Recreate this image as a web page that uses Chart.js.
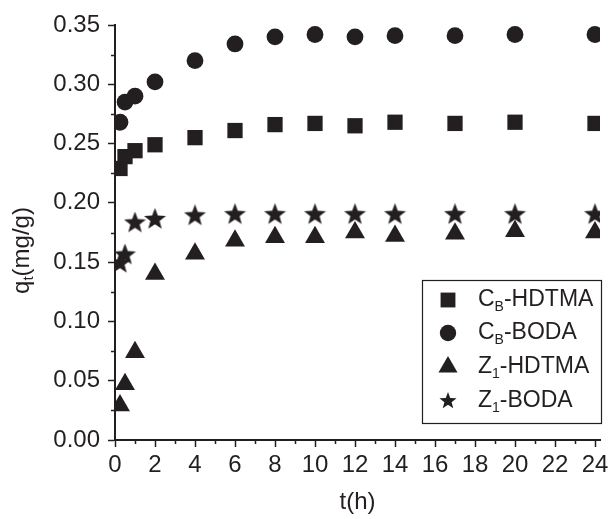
<!DOCTYPE html>
<html>
<head>
<meta charset="utf-8">
<script src="https://cdn.jsdelivr.net/npm/chart.js@4.4.0/dist/chart.umd.min.js"></script>
<style>
  html, body { margin: 0; padding: 0; background: #fff; }
  #wrap { width: 613px; height: 519px; position: relative; }
</style>
</head>
<body>
<div id="wrap"><canvas id="chart"></canvas></div>
<script>
// Data
const HOURS = [0.25, 0.5, 1, 2, 4, 6, 8, 10, 12, 14, 17, 20, 24];
const CB_HDTMA = [0.229, 0.239, 0.244, 0.249, 0.255, 0.261, 0.266, 0.267, 0.265, 0.268, 0.267, 0.268, 0.267];
const CB_BODA = [0.268, 0.285, 0.290, 0.302, 0.320, 0.334, 0.340, 0.342, 0.340, 0.341, 0.341, 0.342, 0.342];
const Z1_HDTMA = [0.029, 0.047, 0.074, 0.140, 0.157, 0.168, 0.171, 0.171, 0.175, 0.172, 0.174, 0.176, 0.175];
const Z1_BODA = [0.149, 0.156, 0.183, 0.186, 0.189, 0.190, 0.190, 0.190, 0.190, 0.190, 0.190, 0.190, 0.190];

// Axis ticks
const X_TICKS = [0, 2, 4, 6, 8, 10, 12, 14, 16, 18, 20, 22, 24];
const X_MINOR = [1, 3, 5, 7, 9, 11, 13, 15, 17, 19, 21, 23];
const Y_TICKS = [0, 0.05, 0.1, 0.15, 0.2, 0.25, 0.3, 0.35];
const Y_MINOR = [0.025, 0.075, 0.125, 0.175, 0.225, 0.275, 0.325];

// Legend labels, split for subscripts
const LEGEND_LABELS = [
  [["C"], ["B", true], ["-HDTMA"]],
  [["C"], ["B", true], ["-BODA"]],
  [["Z"], ["1", true], ["-HDTMA"]],
  [["Z"], ["1", true], ["-BODA"]],
];

const INK = "#231f20";
const FONT = "'Liberation Sans', Arial, Helvetica, sans-serif";

function makeStar(size) {
  const c = document.createElement("canvas");
  c.width = size;
  c.height = size;
  const ctx = c.getContext("2d");
  const R = size / 2;
  const r = R * 0.42;
  ctx.fillStyle = INK;
  ctx.beginPath();
  for (let i = 0; i < 10; i++) {
    const rad = -Math.PI / 2 + (i * Math.PI) / 5;
    const len = i % 2 === 0 ? R : r;
    const px = size / 2 + Math.cos(rad) * len;
    const py = size / 2 + Math.sin(rad) * len;
    if (i === 0) ctx.moveTo(px, py);
    else ctx.lineTo(px, py);
  }
  ctx.closePath();
  ctx.fill();
  return c;
}

const starBig = makeStar(23);
const starSmall = makeStar(18);

function toPoints(values) {
  return HOURS.map((h, i) => ({ x: h, y: values[i] }));
}

const datasets = [
  { label: "CB-HDTMA", data: toPoints(CB_HDTMA), pointStyle: "rect", pointRadius: 10.8 },
  { label: "CB-BODA", data: toPoints(CB_BODA), pointStyle: "circle", pointRadius: 8.4 },
  { label: "Z1-HDTMA", data: toPoints(Z1_HDTMA), pointStyle: "triangle", pointRadius: 11.5 },
  { label: "Z1-BODA", data: toPoints(Z1_BODA), pointStyle: starBig, pointRadius: 11 },
].map((d) => ({
  ...d,
  showLine: false,
  backgroundColor: INK,
  borderColor: INK,
  pointBorderWidth: 0,
  pointHoverRadius: d.pointRadius,
}));

function drawRich(ctx, parts, x, y, size) {
  let cx = x;
  parts.forEach(([text, sub]) => {
    const fs = sub ? Math.round(size * 0.62) : size;
    ctx.font = `${fs}px ${FONT}`;
    ctx.fillText(text, cx, sub ? y + size * 0.3 : y);
    cx += ctx.measureText(text).width;
  });
  return cx - x;
}

function richWidth(ctx, parts, size) {
  let w = 0;
  parts.forEach(([text, sub]) => {
    const fs = sub ? Math.round(size * 0.62) : size;
    ctx.font = `${fs}px ${FONT}`;
    w += ctx.measureText(text).width;
  });
  return w;
}

// minor tick marks, y axis title and boxed legend
const decorations = {
  id: "decorations",
  afterDraw(chart) {
    const { ctx, chartArea, scales } = chart;
    const { x, y } = scales;
    ctx.save();
    ctx.strokeStyle = INK;
    ctx.lineWidth = 1.5;
    ctx.beginPath();
    X_MINOR.forEach((v) => {
      const px = Math.round(x.getPixelForValue(v)) + 0.5;
      ctx.moveTo(px, chartArea.bottom);
      ctx.lineTo(px, chartArea.bottom + 4);
    });
    Y_MINOR.forEach((v) => {
      const py = Math.round(y.getPixelForValue(v)) + 0.5;
      ctx.moveTo(chartArea.left - 4, py);
      ctx.lineTo(chartArea.left, py);
    });
    ctx.stroke();

    // y axis title q_t(mg/g)
    const yTitle = [["q"], ["t", true], ["(mg/g)"]];
    ctx.fillStyle = INK;
    ctx.textBaseline = "middle";
    ctx.textAlign = "left";
    ctx.translate(22, (chartArea.top + chartArea.bottom) / 2 + 18);
    ctx.rotate(-Math.PI / 2);
    const tw = richWidth(ctx, yTitle, 24);
    drawRich(ctx, yTitle, -tw / 2, 0, 24);
    ctx.restore();

    // legend
    const box = { left: 422, top: 280, right: 601, bottom: 423 };
    ctx.save();
    ctx.strokeStyle = INK;
    ctx.lineWidth = 1.2;
    ctx.strokeRect(box.left + 0.5, box.top + 0.5, box.right - box.left, box.bottom - box.top);
    const rows = [300, 333, 367, 401];
    const legendStyles = ["rect", "circle", "triangle", starSmall];
    const legendRadius = [10.5, 8.2, 11, 9];
    ctx.fillStyle = INK;
    ctx.textBaseline = "middle";
    rows.forEach((ry, i) => {
      if (Chart.helpers && Chart.helpers.drawPoint) {
        Chart.helpers.drawPoint(ctx, {
          pointStyle: legendStyles[i],
          radius: legendRadius[i],
          rotation: 0,
          borderWidth: 0,
        }, 448, ry);
      }
      ctx.fillStyle = INK;
      drawRich(ctx, LEGEND_LABELS[i], 478, ry, 23);
    });
    ctx.restore();
  },
};

const axisCommon = {
  type: "linear",
  border: { display: true, color: INK, width: 2 },
  grid: {
    drawOnChartArea: false,
    drawTicks: true,
    tickLength: 7,
    tickWidth: 1.5,
    tickColor: INK,
  },
};

new Chart(document.getElementById("chart"), {
  type: "scatter",
  data: { datasets },
  options: {
    responsive: true,
    maintainAspectRatio: false,
    animation: false,
    layout: { padding: { left: 0, right: 13, top: 25, bottom: 0 } },
    plugins: {
      legend: { display: false },
      tooltip: { enabled: false },
    },
    scales: {
      x: {
        ...axisCommon,
        position: "bottom",
        min: 0,
        max: 24.25,
        afterBuildTicks: (scale) => {
          scale.ticks = X_TICKS.map((v) => ({ value: v }));
        },
        afterFit: (scale) => {
          scale.height = 79;
        },
        ticks: {
          color: INK,
          padding: 4,
          maxRotation: 0,
          autoSkip: false,
          font: { family: FONT, size: 24 },
        },
        title: {
          display: true,
          text: "t(h)",
          color: INK,
          font: { family: FONT, size: 24 },
          padding: { top: 0, bottom: 2 },
        },
      },
      y: {
        ...axisCommon,
        position: "left",
        min: 0,
        max: 0.35,
        afterBuildTicks: (scale) => {
          scale.ticks = Y_TICKS.map((v) => ({ value: v }));
        },
        afterFit: (scale) => {
          scale.width = 115;
        },
        ticks: {
          color: INK,
          padding: 8,
          font: { family: FONT, size: 24 },
          callback: (v) => Number(v).toFixed(2),
        },
      },
    },
  },
  plugins: [decorations],
});
</script>
</body>
</html>
